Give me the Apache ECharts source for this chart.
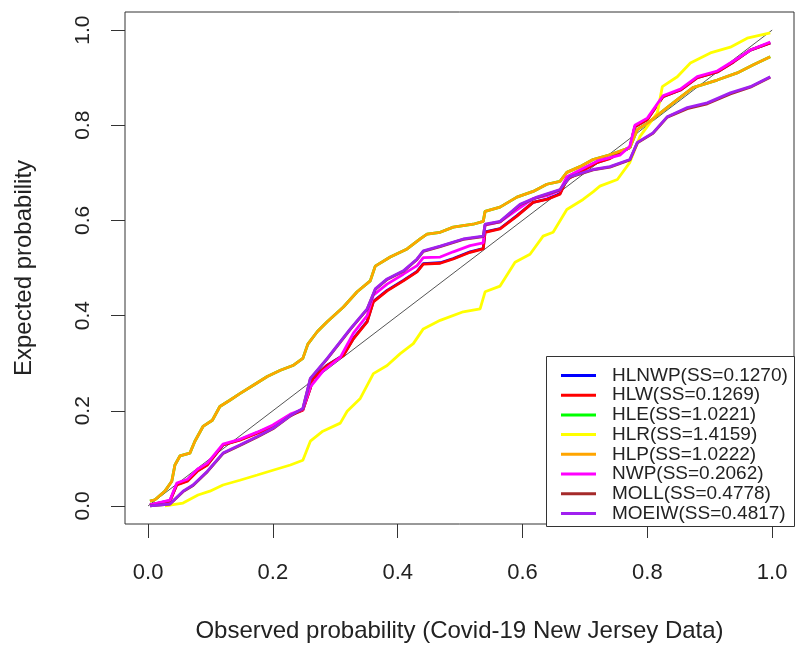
<!DOCTYPE html>
<html>
<head>
<meta charset="utf-8">
<script src="https://cdn.jsdelivr.net/npm/echarts@6/dist/echarts.min.js"></script>
<style>
  html, body { margin: 0; background: #fff; }
  #chart { width: 795px; height: 648px; }
</style>
</head>
<body>
<div id="chart"></div>
<script>
// tick positions shared by both axes
var tickValues = [0, 0.2, 0.4, 0.6, 0.8, 1.0];

var seriesNames = [
  'HLNWP(SS=0.1270)', 'HLW(SS=0.1269)', 'HLE(SS=1.0221)', 'HLR(SS=1.4159)',
  'HLP(SS=1.0222)', 'NWP(SS=0.2062)', 'MOLL(SS=0.4778)', 'MOEIW(SS=0.4817)'
];
var seriesColors = ['#0000ff', '#ff0000', '#00ff00', '#ffff00', '#ffa500', '#ff00ff', '#a52a2a', '#a020f0'];

// [observed, expected] pairs
var hlw = [
  [0.003, 0.002], [0.035, 0.010], [0.046, 0.044], [0.063, 0.052], [0.079, 0.073], [0.095, 0.086],
  [0.120, 0.128], [0.147, 0.138], [0.175, 0.153], [0.200, 0.167], [0.228, 0.190], [0.248, 0.201],
  [0.260, 0.247], [0.264, 0.268], [0.287, 0.295], [0.313, 0.316], [0.329, 0.351], [0.351, 0.387],
  [0.361, 0.429], [0.383, 0.452], [0.409, 0.473], [0.431, 0.492], [0.441, 0.508], [0.468, 0.510],
  [0.489, 0.519], [0.516, 0.533], [0.537, 0.540], [0.540, 0.575], [0.564, 0.582], [0.591, 0.609],
  [0.617, 0.638], [0.639, 0.644], [0.660, 0.655], [0.671, 0.686], [0.692, 0.701], [0.720, 0.722],
  [0.740, 0.730], [0.772, 0.753], [0.780, 0.797], [0.800, 0.812], [0.825, 0.860], [0.853, 0.874],
  [0.880, 0.900], [0.912, 0.912], [0.938, 0.933], [0.965, 0.958], [0.997, 0.973]
];
// HLNWP sits under HLW in the picture
var hlnwp = [
  [0.003, 0.002], [0.035, 0.011], [0.046, 0.045], [0.063, 0.053], [0.079, 0.074], [0.095, 0.087],
  [0.120, 0.128], [0.147, 0.139], [0.175, 0.154], [0.200, 0.168], [0.228, 0.191], [0.248, 0.202],
  [0.260, 0.248], [0.264, 0.268], [0.287, 0.296], [0.313, 0.317], [0.329, 0.352], [0.351, 0.388],
  [0.361, 0.430], [0.383, 0.453], [0.409, 0.474], [0.431, 0.493], [0.441, 0.509], [0.468, 0.511],
  [0.489, 0.520], [0.516, 0.534], [0.537, 0.541], [0.540, 0.576], [0.564, 0.583], [0.591, 0.610],
  [0.617, 0.638], [0.639, 0.645], [0.660, 0.656], [0.671, 0.687], [0.692, 0.702], [0.720, 0.722],
  [0.740, 0.731], [0.772, 0.753], [0.780, 0.797], [0.800, 0.812], [0.825, 0.860], [0.853, 0.874],
  [0.880, 0.900], [0.912, 0.912], [0.938, 0.933], [0.965, 0.958], [0.997, 0.973]
];
var hlp = [
  [0.003, 0.010], [0.011, 0.013], [0.027, 0.031], [0.038, 0.052], [0.043, 0.086], [0.051, 0.105],
  [0.067, 0.111], [0.075, 0.136], [0.088, 0.167], [0.103, 0.180], [0.115, 0.209], [0.131, 0.222],
  [0.147, 0.236], [0.168, 0.253], [0.191, 0.272], [0.212, 0.285], [0.232, 0.295], [0.248, 0.310],
  [0.256, 0.340], [0.271, 0.366], [0.287, 0.387], [0.313, 0.418], [0.335, 0.450], [0.356, 0.473],
  [0.364, 0.504], [0.388, 0.523], [0.415, 0.540], [0.436, 0.561], [0.447, 0.571], [0.468, 0.575],
  [0.489, 0.586], [0.521, 0.592], [0.537, 0.598], [0.540, 0.619], [0.564, 0.628], [0.591, 0.649],
  [0.617, 0.661], [0.639, 0.676], [0.660, 0.682], [0.671, 0.701], [0.692, 0.713], [0.713, 0.728],
  [0.740, 0.738], [0.772, 0.753], [0.784, 0.791], [0.801, 0.805], [0.821, 0.826], [0.848, 0.854],
  [0.873, 0.879], [0.912, 0.895], [0.944, 0.910], [0.970, 0.927], [0.997, 0.944]
];
// HLE sits under HLP
var hle = [
  [0.003, 0.010], [0.011, 0.013], [0.027, 0.031], [0.038, 0.052], [0.043, 0.086], [0.051, 0.105],
  [0.067, 0.111], [0.075, 0.136], [0.088, 0.167], [0.103, 0.180], [0.115, 0.209], [0.131, 0.222],
  [0.147, 0.236], [0.168, 0.253], [0.191, 0.272], [0.212, 0.285], [0.232, 0.295], [0.248, 0.310],
  [0.256, 0.340], [0.271, 0.366], [0.287, 0.387], [0.313, 0.418], [0.335, 0.450], [0.356, 0.473],
  [0.364, 0.504], [0.388, 0.523], [0.415, 0.540], [0.436, 0.561], [0.447, 0.571], [0.468, 0.575],
  [0.489, 0.586], [0.521, 0.592], [0.537, 0.598], [0.540, 0.619], [0.564, 0.628], [0.591, 0.649],
  [0.617, 0.661], [0.639, 0.676], [0.660, 0.682], [0.671, 0.701], [0.692, 0.713], [0.713, 0.728],
  [0.740, 0.738], [0.772, 0.753], [0.784, 0.791], [0.801, 0.805], [0.821, 0.826], [0.848, 0.854],
  [0.873, 0.879], [0.912, 0.895], [0.944, 0.910], [0.970, 0.927], [0.997, 0.944]
];
var hlr = [
  [0.027, 0.000], [0.056, 0.006], [0.080, 0.023], [0.099, 0.031], [0.120, 0.044], [0.147, 0.054],
  [0.175, 0.065], [0.200, 0.075], [0.228, 0.086], [0.248, 0.096], [0.260, 0.136], [0.280, 0.157],
  [0.308, 0.174], [0.319, 0.199], [0.340, 0.226], [0.361, 0.278], [0.383, 0.295], [0.404, 0.320],
  [0.425, 0.341], [0.441, 0.372], [0.468, 0.390], [0.505, 0.408], [0.532, 0.414], [0.540, 0.450],
  [0.564, 0.462], [0.588, 0.512], [0.612, 0.529], [0.633, 0.567], [0.649, 0.575], [0.671, 0.623],
  [0.697, 0.644], [0.713, 0.660], [0.724, 0.672], [0.752, 0.686], [0.772, 0.722], [0.788, 0.776],
  [0.816, 0.826], [0.824, 0.881], [0.848, 0.902], [0.869, 0.931], [0.901, 0.952], [0.933, 0.964],
  [0.960, 0.983], [0.997, 0.994]
];
var nwp = [
  [0.003, 0.002], [0.035, 0.012], [0.046, 0.048], [0.063, 0.056], [0.079, 0.077], [0.095, 0.090],
  [0.120, 0.130], [0.147, 0.140], [0.175, 0.155], [0.200, 0.170], [0.228, 0.193], [0.248, 0.203],
  [0.260, 0.250], [0.280, 0.283], [0.308, 0.312], [0.329, 0.363], [0.351, 0.400], [0.361, 0.443],
  [0.383, 0.466], [0.409, 0.487], [0.431, 0.505], [0.441, 0.522], [0.468, 0.523], [0.489, 0.534],
  [0.516, 0.547], [0.537, 0.553], [0.540, 0.590], [0.564, 0.597], [0.591, 0.622], [0.617, 0.646],
  [0.639, 0.652], [0.660, 0.663], [0.671, 0.692], [0.692, 0.706], [0.720, 0.725], [0.756, 0.737],
  [0.772, 0.756], [0.780, 0.800], [0.800, 0.815], [0.825, 0.862], [0.853, 0.876], [0.880, 0.902],
  [0.912, 0.914], [0.938, 0.935], [0.965, 0.958], [0.997, 0.975]
];
var moeiw = [
  [0.003, 0.000], [0.035, 0.004], [0.056, 0.031], [0.072, 0.044], [0.095, 0.073], [0.120, 0.111],
  [0.147, 0.128], [0.175, 0.146], [0.200, 0.163], [0.228, 0.190], [0.248, 0.205], [0.260, 0.268],
  [0.287, 0.310], [0.324, 0.372], [0.351, 0.414], [0.364, 0.456], [0.383, 0.477], [0.409, 0.494],
  [0.431, 0.519], [0.441, 0.536], [0.468, 0.546], [0.505, 0.561], [0.537, 0.567], [0.540, 0.592],
  [0.564, 0.598], [0.596, 0.634], [0.623, 0.649], [0.660, 0.665], [0.676, 0.692], [0.713, 0.707],
  [0.740, 0.713], [0.772, 0.728], [0.784, 0.764], [0.809, 0.784], [0.832, 0.818], [0.864, 0.837],
  [0.896, 0.847], [0.933, 0.868], [0.965, 0.881], [0.997, 0.902]
];
// MOLL sits under MOEIW
var moll = [
  [0.003, 0.000], [0.035, 0.004], [0.056, 0.030], [0.072, 0.043], [0.095, 0.072], [0.120, 0.110],
  [0.147, 0.127], [0.175, 0.145], [0.200, 0.162], [0.228, 0.189], [0.248, 0.204], [0.260, 0.267],
  [0.287, 0.309], [0.324, 0.371], [0.351, 0.413], [0.364, 0.455], [0.383, 0.476], [0.409, 0.493],
  [0.431, 0.518], [0.441, 0.535], [0.468, 0.545], [0.505, 0.560], [0.537, 0.566], [0.540, 0.591],
  [0.564, 0.597], [0.596, 0.633], [0.623, 0.648], [0.660, 0.664], [0.676, 0.691], [0.713, 0.706],
  [0.740, 0.712], [0.772, 0.727], [0.784, 0.763], [0.809, 0.783], [0.832, 0.817], [0.864, 0.835],
  [0.896, 0.845], [0.933, 0.866], [0.965, 0.880], [0.997, 0.901]
];
var diagonal = [[0, 0], [1, 1]];

var seriesData = [hlnwp, hlw, hle, hlr, hlp, nwp, moll, moeiw];

var myChart = echarts.init(document.getElementById('chart'));
var font = 'Liberation Sans, Arial, sans-serif';

var series = [{
  type: 'line',
  data: diagonal,
  showSymbol: false,
  silent: true,
  lineStyle: { color: '#555', width: 1 },
  z: 1
}];
seriesData.forEach(function (d, i) {
  series.push({
    name: seriesNames[i],
    type: 'line',
    data: d,
    showSymbol: false,
    color: seriesColors[i],
    lineStyle: { color: seriesColors[i], width: 2.8 },
    z: 2
  });
});

var option = {
  backgroundColor: '#fff',
  animation: false,
  grid: {
    left: 125, top: 12, width: 669, height: 514,
    show: true, borderColor: '#333', borderWidth: 1
  },
  xAxis: {
    type: 'value',
    min: -0.037, max: 1.035,
    name: 'Observed probability (Covid-19 New Jersey Data)',
    nameLocation: 'middle',
    nameGap: 95,
    nameTextStyle: { fontSize: 24, color: '#222', fontFamily: font },
    axisLine: { show: false, onZero: false },
    splitLine: { show: false },
    axisTick: { show: true, length: 14, customValues: tickValues, lineStyle: { color: '#333' } },
    axisLabel: {
      customValues: tickValues, margin: 38, fontSize: 22, color: '#222', fontFamily: font,
      formatter: function (v) { return v.toFixed(1); }
    }
  },
  yAxis: {
    type: 'value',
    min: -0.038, max: 1.038,
    name: 'Expected probability',
    nameLocation: 'middle',
    nameGap: 89,
    nameTextStyle: { fontSize: 24, color: '#222', fontFamily: font },
    axisLine: { show: false, onZero: false },
    splitLine: { show: false },
    axisTick: { show: true, length: 14, customValues: tickValues, lineStyle: { color: '#333' } },
    axisLabel: {
      customValues: tickValues, rotate: 90, margin: 31, fontSize: 21, color: '#222', fontFamily: font,
      formatter: function (v) { return v.toFixed(1); }
    }
  },
  legend: {
    orient: 'vertical',
    left: 561, top: 366,
    padding: 0,
    icon: 'rect',
    itemWidth: 35, itemHeight: 3,
    itemGap: 0.7,
    selectedMode: false,
    data: seriesNames,
    textStyle: { fontSize: 19, lineHeight: 18, padding: [0, 0, 0, 11], color: '#222', fontFamily: font }
  },
  graphic: [{
    type: 'rect',
    shape: { x: 546.5, y: 356.5, width: 248, height: 170 },
    style: { fill: '#fff', stroke: '#333', lineWidth: 1 },
    z: 3
  }],
  series: series
};
myChart.setOption(option);
</script>
</body>
</html>
